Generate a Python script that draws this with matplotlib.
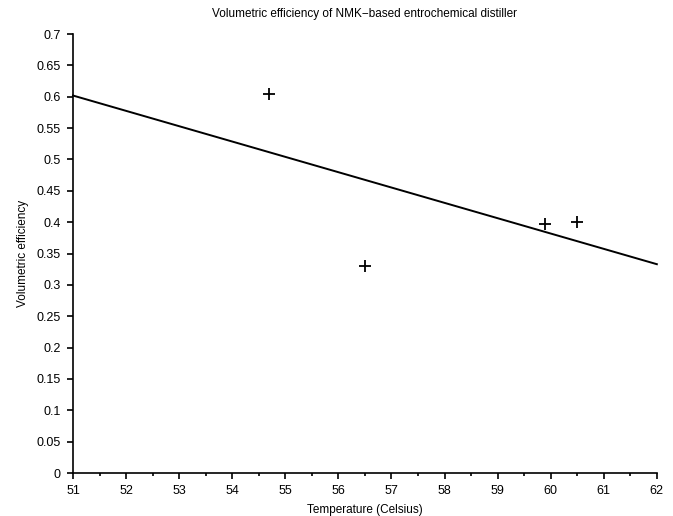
import numpy as np
import matplotlib
matplotlib.use("Agg")
import matplotlib.pyplot as plt
from matplotlib.ticker import MultipleLocator, FuncFormatter

temperature = [54.7, 56.5, 59.9, 60.5]
efficiency = [0.605, 0.33, 0.397, 0.401]
x_range = [51, 62]
y_range = [0, 0.7]

plt.rcParams['font.family'] = ['Liberation Sans', 'DejaVu Sans']

fig = plt.figure(figsize=(6.73, 5.16), dpi=100)
ax = fig.add_axes([0.1085, 0.0833, 0.8675, 0.8507])

slope, intercept = np.polyfit(temperature, efficiency, 1)
xs = np.array(x_range, dtype=float)
ax.plot(xs, slope * xs + intercept, color='black', lw=1.4, clip_on=False)
ax.plot(temperature, efficiency, linestyle='none', marker='+', ms=9, mew=1.3, color='black')

ax.set_xlim(*x_range)
ax.set_ylim(*y_range)
ax.xaxis.set_major_locator(MultipleLocator(1))
ax.xaxis.set_minor_locator(MultipleLocator(0.5))
ax.yaxis.set_major_locator(MultipleLocator(0.05))
ax.yaxis.set_major_formatter(FuncFormatter(lambda v, p: f"{round(v, 2):g}"))

for s in ['top', 'right']:
    ax.spines[s].set_visible(False)
for s in ['left', 'bottom']:
    ax.spines[s].set_linewidth(1.2)

ax.tick_params(axis='x', which='major', direction='out', length=4, width=1.2, labelsize=9, pad=4.5)
ax.tick_params(axis='y', which='major', direction='out', length=4.5, width=1.2, labelsize=9, pad=4.5)
ax.tick_params(axis='x', which='minor', direction='out', length=2.3, width=1.2)

ax.set_title("Volumetric efficiency of NMK\u2212based entrochemical distiller", fontsize=8.5, pad=12)
ax.set_xlabel("Temperature (Celsius)", fontsize=8.5, labelpad=5)
ax.set_ylabel("Volumetric efficiency", fontsize=8.5, labelpad=5)

fig.savefig("out.png", dpi=100)
